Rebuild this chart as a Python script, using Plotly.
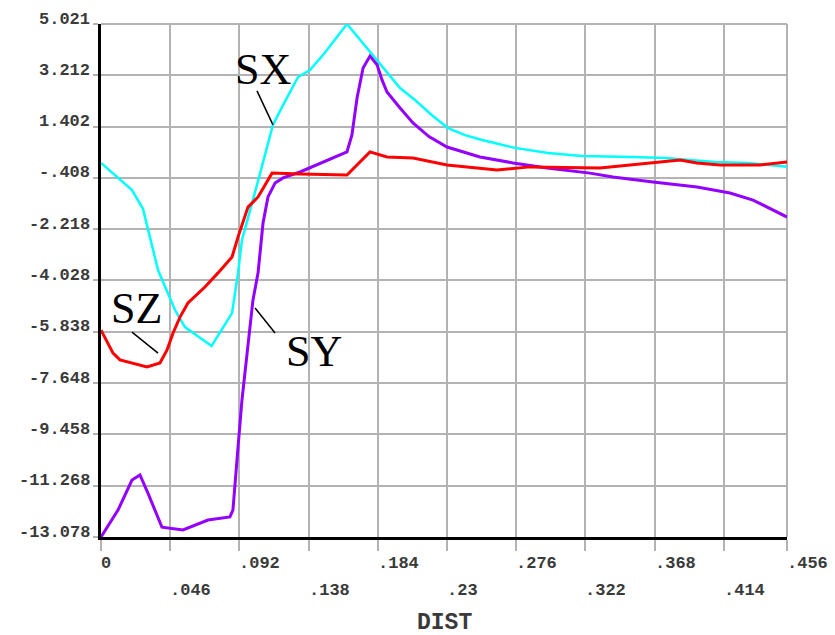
import plotly.graph_objects as go

# Path distance (m) and stress components along the path
dist_sx = [0, 0.0206, 0.0279, 0.0312, 0.0379, 0.0492, 0.0558, 0.0735, 0.0871, 0.0911, 0.0937,
           0.1024, 0.1143, 0.1210, 0.1310, 0.1389, 0.1476, 0.1635, 0.1808, 0.1988, 0.2087,
           0.2200, 0.2307, 0.2420, 0.2533, 0.2752, 0.2971, 0.3197, 0.3530, 0.3749, 0.4081,
           0.4301, 0.456]
sx = [0.12, -0.84, -1.50, -2.25, -3.66, -5.07, -5.67, -6.34, -5.18, -3.76, -2.60,
      -0.91, 1.46, 2.16, 3.15, 3.40, 3.93, 5.021, 3.93, 2.76, 2.34,
      1.80, 1.35, 1.10, 0.93, 0.65, 0.47, 0.36, 0.33, 0.29, 0.15,
      0.12, -0.02]

dist_sy = [0, 0.0113, 0.0206, 0.0259, 0.0312, 0.0405, 0.0545, 0.0711, 0.0857, 0.0877,
           0.0911, 0.0937, 0.1010, 0.1044, 0.1077, 0.1110, 0.1157, 0.1210, 0.1323, 0.1476,
           0.1635, 0.1668, 0.1702, 0.1742, 0.1788, 0.1835, 0.1868, 0.1901, 0.1948, 0.1988,
           0.2074, 0.2180, 0.2300, 0.2519, 0.2739, 0.2965, 0.3250, 0.3403, 0.3669, 0.3962,
           0.4181, 0.4334, 0.456]
sy = [-13.078, -12.13, -11.07, -10.89, -11.53, -12.73, -12.83, -12.48, -12.37, -12.13,
      -9.90, -8.25, -4.72, -3.76, -2.00, -1.08, -0.59, -0.41, -0.20, 0.15,
      0.51, 1.11, 2.41, 3.47, 3.89, 3.58, 3.05, 2.62, 2.30, 2.06,
      1.53, 1.05, 0.68, 0.33, 0.12, -0.06, -0.24, -0.38, -0.55, -0.73,
      -0.94, -1.19, -1.79]

dist_sz = [0, 0.0080, 0.0126, 0.0306, 0.0392, 0.0439, 0.0479, 0.0525, 0.0578, 0.0691,
           0.0778, 0.0871, 0.0911, 0.0977, 0.1044, 0.1137, 0.1323, 0.1635, 0.1788, 0.1901,
           0.2074, 0.2300, 0.2632, 0.2852, 0.3317, 0.3516, 0.3736, 0.3849, 0.3962, 0.4115,
           0.4381, 0.456]
sz = [-5.78, -6.59, -6.83, -7.08, -6.94, -6.48, -5.88, -5.32, -4.82, -4.26,
      -3.76, -3.20, -2.49, -1.44, -1.08, -0.24, -0.27, -0.31, 0.51, 0.33,
      0.29, 0.05, -0.13, -0.02, -0.06, 0.05, 0.15, 0.22, 0.12, 0.05,
      0.05, 0.15]

x_ticks = [0, 0.046, 0.092, 0.138, 0.184, 0.23, 0.276, 0.322, 0.368, 0.414, 0.456]
x_tick_text = ["0", ".046", ".092", ".138", ".184", ".23", ".276", ".322", ".368", ".414", ".456"]
y_ticks = [5.021, 3.212, 1.402, -0.408, -2.218, -4.028, -5.838, -7.648, -9.458, -11.268, -13.078]
y_tick_text = ["5.021", "3.212", "1.402", "-.408", "-2.218", "-4.028", "-5.838", "-7.648",
               "-9.458", "-11.268", "-13.078"]

GRID = "#b3b3b3"
TICK_FONT = dict(family="Liberation Mono", size=17, color="#3a3a3a", weight="bold")

fig = go.Figure()
fig.add_trace(go.Scatter(x=dist_sx, y=sx, mode="lines", name="SX",
                         line=dict(color="#00ffff", width=2.5)))
fig.add_trace(go.Scatter(x=dist_sy, y=sy, mode="lines", name="SY",
                         line=dict(color="#9400ff", width=3)))
fig.add_trace(go.Scatter(x=dist_sz, y=sz, mode="lines", name="SZ",
                         line=dict(color="#ff0000", width=3)))

annotations = []
# y tick labels, sitting just above their grid lines
for v, t in zip(y_ticks, y_tick_text):
    annotations.append(dict(x=0, xref="paper", y=v, yref="y", text=t, showarrow=False,
                            xanchor="right", yanchor="middle", xshift=-9, yshift=5,
                            font=TICK_FONT))
# x tick labels in two staggered rows, left-aligned on the tick
for i, (v, t) in enumerate(zip(x_ticks, x_tick_text)):
    annotations.append(dict(x=v, xref="x", y=0, yref="paper", text=t, showarrow=False,
                            xanchor="left", yanchor="middle", xshift=-2,
                            yshift=-26 if i % 2 == 0 else -53, font=TICK_FONT))
annotations.append(dict(x=0.5, xref="paper", y=0, yref="paper", text="DIST", showarrow=False,
                        xanchor="center", yanchor="middle", yshift=-86,
                        font=dict(family="Liberation Mono", size=23, color="#3a3a3a",
                                  weight="bold")))

# curve labels with leader lines
label_font = dict(family="Liberation Serif", size=44, color="#000000")
curve_labels = [("SX", 0.1077, 3.43), ("SZ", 0.0239, -5.03), ("SY", 0.1416, -6.52)]
for t, lx, ly in curve_labels:
    annotations.append(dict(x=lx, y=ly, xref="x", yref="y", text=t, showarrow=False,
                            xanchor="center", yanchor="middle", font=label_font))

leaders = [((0.1037, 2.66), (0.1143, 1.46)),
           ((0.0206, -5.85), (0.0379, -6.59)),
           ((0.1024, -5.00), (0.1157, -5.88))]
shapes = []
for (x0, y0), (x1, y1) in leaders:
    shapes.append(dict(type="line", xref="x", yref="y", x0=x0, y0=y0, x1=x1, y1=y1,
                       line=dict(color="#000000", width=1.5)))
# top and right frame edges
shapes.append(dict(type="line", xref="paper", yref="paper", x0=0, y0=1, x1=1, y1=1,
                   line=dict(color=GRID, width=2), layer="below"))
shapes.append(dict(type="line", xref="paper", yref="paper", x0=1, y0=0, x1=1, y1=1,
                   line=dict(color=GRID, width=2), layer="below"))

fig.update_layout(
    width=835, height=635,
    margin=dict(l=101, r=48, t=24, b=98),
    paper_bgcolor="white", plot_bgcolor="white",
    showlegend=False,
    annotations=annotations,
    shapes=shapes,
    xaxis=dict(range=[0, 0.456], tickvals=x_ticks, showticklabels=False,
               showgrid=True, gridcolor=GRID, gridwidth=2,
               ticks="outside", ticklen=11, tickcolor=GRID, tickwidth=2,
               showline=True, linecolor="#000000", linewidth=3, zeroline=False),
    yaxis=dict(range=[-13.078, 5.021], tickvals=y_ticks, showticklabels=False,
               showgrid=True, gridcolor=GRID, gridwidth=2,
               ticks="outside", ticklen=5, tickcolor=GRID, tickwidth=2,
               showline=True, linecolor="#000000", linewidth=3, zeroline=False),
)

fig.write_html("out.html")
